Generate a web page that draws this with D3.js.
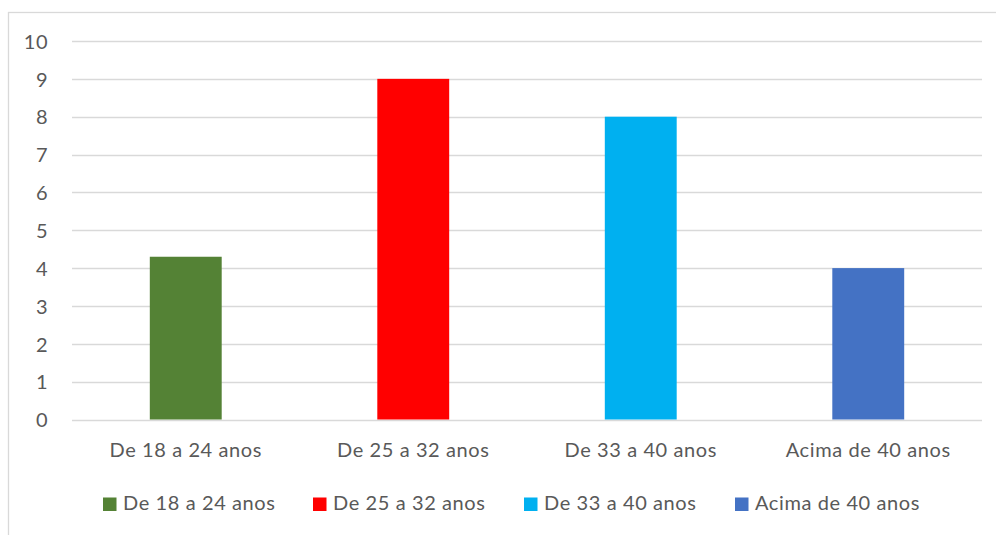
<!DOCTYPE html>
<html>
<head>
<meta charset="utf-8">
<script src="https://cdn.jsdelivr.net/npm/d3@7"></script>
<style>
  html, body { margin: 0; padding: 0; background: #fff; }
  svg { display: block; }
  text { font-family: Lato, "Open Sans", sans-serif; fill: #595959; }
</style>
</head>
<body>
<svg id="chart" width="996" height="535"></svg>
<script>
// Age groups and counts
const categories = ["De 18 a 24 anos", "De 25 a 32 anos", "De 33 a 40 anos", "Acima de 40 anos"];
const values = [4.3, 9, 8, 4];
const colors = ["#548235", "#FF0000", "#00B0F0", "#4472C4"];
const yTicks = [0, 1, 2, 3, 4, 5, 6, 7, 8, 9, 10];

const svg = d3.select("#chart");
const W = 996, H = 535;

// Chart frame
svg.append("rect")
  .attr("x", 8.5).attr("y", 12.5)
  .attr("width", W + 20).attr("height", H + 20)
  .attr("fill", "#fff").attr("stroke", "#D9D9D9").attr("stroke-width", 1.3);

const plot = { left: 72, right: 982, top: 41, bottom: 419.5 };

const x = d3.scaleBand()
  .domain(categories)
  .range([plot.left, plot.right])
  .paddingInner(0.684)
  .paddingOuter(0.342);

const y = d3.scaleLinear()
  .domain([0, 10])
  .range([plot.bottom, plot.top]);

// Gridlines
svg.append("g")
  .selectAll("line")
  .data(yTicks)
  .join("line")
  .attr("x1", plot.left).attr("x2", plot.right)
  .attr("y1", d => Math.round(y(d)) + 0.5)
  .attr("y2", d => Math.round(y(d)) + 0.5)
  .attr("stroke", "#D9D9D9").attr("stroke-width", 1.3);

// Y axis labels
const yAxis = d3.axisLeft(y).tickValues(yTicks).tickSize(0).tickPadding(0).tickFormat(d3.format("d"));
const yg = svg.append("g").attr("transform", `translate(${48},0)`).call(yAxis);
yg.select(".domain").remove();
yg.selectAll("text")
  .attr("font-size", 20)
  .attr("dy", "0.36em")
  .style("font-family", "Lato, sans-serif")
  .style("letter-spacing", "0.5px")
  .attr("fill", "#595959");

// Bars
svg.append("g")
  .selectAll("rect")
  .data(categories)
  .join("rect")
  .attr("x", d => x(d))
  .attr("width", x.bandwidth())
  .attr("y", (d, i) => y(values[i]))
  .attr("height", (d, i) => y(0) - y(values[i]))
  .attr("fill", (d, i) => colors[i]);

// Category axis
const xAxis = d3.axisBottom(x).tickSize(0).tickPadding(0);
const xg = svg.append("g").attr("transform", `translate(0,${457})`).call(xAxis);
xg.select(".domain").remove();
xg.selectAll("text")
  .attr("dy", 0)
  .attr("font-size", 20)
  .style("font-family", "Lato, sans-serif")
  .style("letter-spacing", "0.6px")
  .attr("fill", "#595959");

// Legend
const legendX = [103, 313, 524, 735];
const legend = svg.append("g")
  .selectAll("g")
  .data(categories)
  .join("g")
  .attr("transform", (d, i) => `translate(${legendX[i]},0)`);
legend.append("rect")
  .attr("x", 0).attr("y", 497.5)
  .attr("width", 13.5).attr("height", 13.5)
  .attr("fill", (d, i) => colors[i]);
legend.append("text")
  .attr("x", 20).attr("y", 510)
  .attr("font-size", 20)
  .style("letter-spacing", "0.6px")
  .text(d => d);
</script>
</body>
</html>
